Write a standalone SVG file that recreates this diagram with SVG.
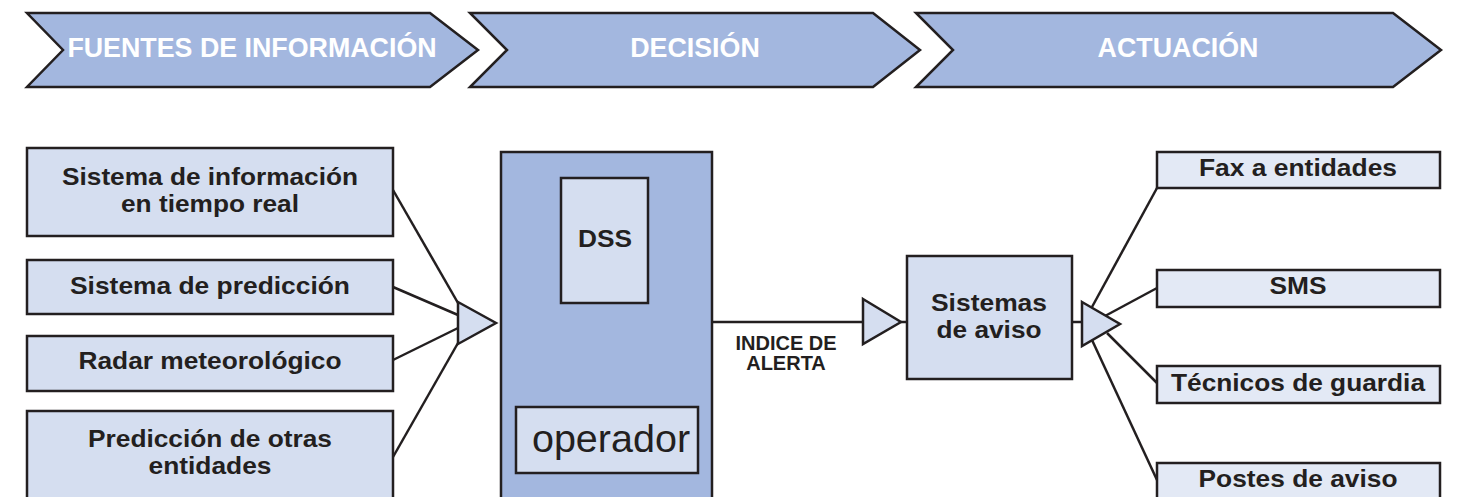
<svg xmlns="http://www.w3.org/2000/svg" width="1458" height="497" viewBox="0 0 1458 497">
  <style>
    .stage { fill: #a3b7df; stroke: #231f20; stroke-width: 2.5; stroke-linejoin: miter; }
    .stage-label { fill: #ffffff; font-family: "Liberation Sans", Arial, sans-serif; font-weight: bold; font-size: 26.8px; text-anchor: middle; }
    .box { fill: #d5def0; stroke: #231f20; stroke-width: 2.5; }
    .box-out { fill: #e3e9f5; stroke: #231f20; stroke-width: 2.5; }
    .panel { fill: #a3b7df; stroke: #231f20; stroke-width: 2.5; }
    .label { fill: #231f20; font-family: "Liberation Sans", Arial, sans-serif; font-weight: bold; font-size: 24px; text-anchor: middle; }
    .small { fill: #231f20; font-family: "Liberation Sans", Arial, sans-serif; font-weight: bold; font-size: 20px; text-anchor: middle; }
    .plain { fill: #231f20; font-family: "Liberation Sans", Arial, sans-serif; font-size: 39.5px; text-anchor: middle; }
    .wire { fill: none; stroke: #231f20; stroke-width: 2.5; }
    .join { fill: #d5def0; stroke: #231f20; stroke-width: 2.5; stroke-linejoin: miter; }
  </style>

  <!-- process stages -->
  <g id="stage-fuentes">
    <polygon class="stage" points="27,13 430,13 478,50 430,87 27,87 63,50"/>
    <text class="stage-label" x="252" y="57">FUENTES DE INFORMACIÓN</text>
  </g>
  <g id="stage-decision">
    <polygon class="stage" points="470,13 873,13 920,50 873,87 470,87 507,50"/>
    <text class="stage-label" x="695" y="57">DECISIÓN</text>
  </g>
  <g id="stage-actuacion">
    <polygon class="stage" points="916,13 1393,13 1441,50 1393,87 916,87 953,50"/>
    <text class="stage-label" x="1178" y="57">ACTUACIÓN</text>
  </g>

  <!-- connectors -->
  <g id="connectors">
    <line class="wire" x1="393" y1="190" x2="458" y2="303"/>
    <line class="wire" x1="393" y1="287" x2="458" y2="315"/>
    <line class="wire" x1="393" y1="360" x2="458" y2="328"/>
    <line class="wire" x1="393" y1="457" x2="458" y2="343"/>
    <polygon class="join" points="458,302 496,323 458,344"/>

    <line class="wire" x1="712" y1="322" x2="863" y2="322"/>
    <polygon class="join" points="863,299 901,322 863,344"/>
    <line class="wire" x1="901" y1="322" x2="907" y2="322"/>

    <line class="wire" x1="1072" y1="322" x2="1082" y2="322"/>
    <line class="wire" x1="1092" y1="307" x2="1157" y2="188"/>
    <line class="wire" x1="1105" y1="316" x2="1157" y2="288"/>
    <line class="wire" x1="1107" y1="333" x2="1157" y2="383"/>
    <line class="wire" x1="1092" y1="340" x2="1157" y2="480"/>
    <polygon class="join" points="1082,302 1120,324 1082,346"/>

    <text class="small" x="786" y="350">INDICE DE</text>
    <text class="small" x="786" y="370">ALERTA</text>
  </g>

  <!-- information sources -->
  <g id="src-tiempo-real">
    <rect class="box" x="27" y="148" width="366" height="88"/>
    <text class="label" x="210" y="184.5" textLength="296" lengthAdjust="spacingAndGlyphs">Sistema de información</text>
    <text class="label" x="210" y="211.5" textLength="178" lengthAdjust="spacingAndGlyphs">en tiempo real</text>
  </g>
  <g id="src-prediccion">
    <rect class="box" x="27" y="260" width="366" height="54"/>
    <text class="label" x="210" y="294" textLength="280" lengthAdjust="spacingAndGlyphs">Sistema de predicción</text>
  </g>
  <g id="src-radar">
    <rect class="box" x="27" y="336" width="366" height="55"/>
    <text class="label" x="210" y="369" textLength="263" lengthAdjust="spacingAndGlyphs">Radar meteorológico</text>
  </g>
  <g id="src-otras">
    <rect class="box" x="27" y="411" width="366" height="100"/>
    <text class="label" x="210" y="446.5" textLength="244" lengthAdjust="spacingAndGlyphs">Predicción de otras</text>
    <text class="label" x="210" y="473.5" textLength="123" lengthAdjust="spacingAndGlyphs">entidades</text>
  </g>

  <!-- decision block -->
  <g id="decision">
    <rect class="panel" x="501" y="152" width="211" height="360"/>
    <g id="dss">
      <rect class="box" x="561" y="178" width="87" height="125"/>
      <text class="label" x="605" y="247" textLength="54" lengthAdjust="spacingAndGlyphs">DSS</text>
    </g>
    <g id="operador">
      <rect class="box" x="516" y="407" width="182" height="66"/>
      <text class="plain" x="611" y="452">operador</text>
    </g>
  </g>

  <!-- warning systems -->
  <g id="sistemas-aviso">
    <rect class="box" x="907" y="256" width="165" height="123"/>
    <text class="label" x="989" y="310.5" textLength="116" lengthAdjust="spacingAndGlyphs">Sistemas</text>
    <text class="label" x="989" y="337.5" textLength="105" lengthAdjust="spacingAndGlyphs">de aviso</text>
  </g>

  <!-- outputs -->
  <g id="out-fax">
    <rect class="box-out" x="1157" y="152" width="283" height="36"/>
    <text class="label" x="1298" y="176" textLength="198" lengthAdjust="spacingAndGlyphs">Fax a entidades</text>
  </g>
  <g id="out-sms">
    <rect class="box-out" x="1157" y="270" width="283" height="37"/>
    <text class="label" x="1298" y="294" textLength="57" lengthAdjust="spacingAndGlyphs">SMS</text>
  </g>
  <g id="out-tecnicos">
    <rect class="box-out" x="1157" y="366" width="283" height="37"/>
    <text class="label" x="1298" y="391" textLength="254" lengthAdjust="spacingAndGlyphs">Técnicos de guardia</text>
  </g>
  <g id="out-postes">
    <rect class="box-out" x="1157" y="463" width="283" height="50"/>
    <text class="label" x="1298" y="487" textLength="199" lengthAdjust="spacingAndGlyphs">Postes de aviso</text>
  </g>
</svg>
